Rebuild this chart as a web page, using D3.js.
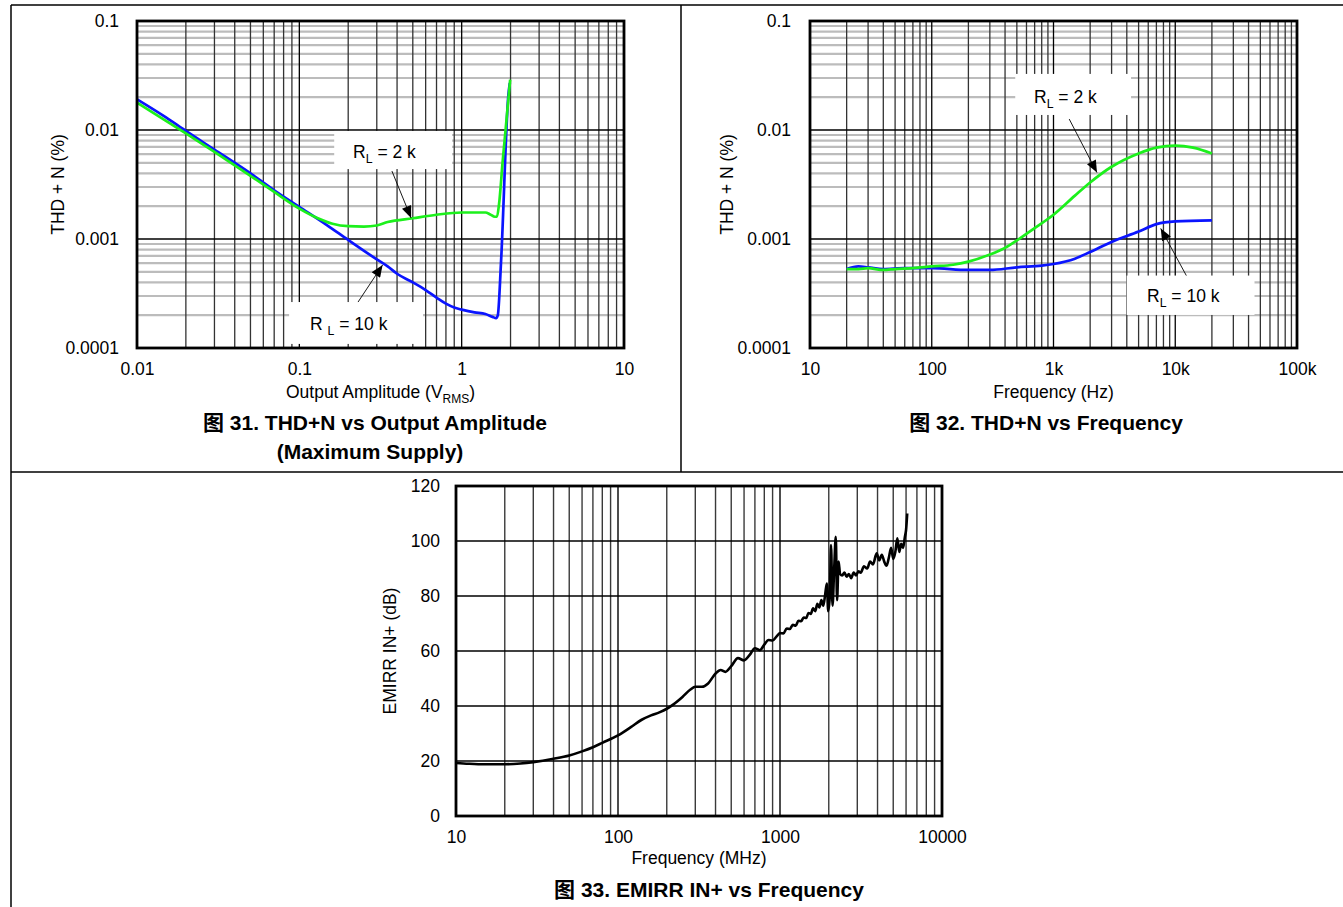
<!DOCTYPE html>
<html><head><meta charset="utf-8">
<script src="https://cdn.jsdelivr.net/npm/d3@7"></script>
<style>
html,body{margin:0;padding:0;background:#fff;}
svg{display:block;font-family:"Liberation Sans",Arial,"Noto Sans CJK SC",sans-serif;}
</style></head><body>
<svg id="c" width="1343" height="907"></svg>
<script>
// ---------- DATA ----------
// Figure 31: THD+N vs Output Amplitude
const ampTicks = [0.01, 0.1, 1, 10];
const ampTickLabels = ["0.01", "0.1", "1", "10"];
const thdTicks = [0.0001, 0.001, 0.01, 0.1];
const thdTickLabels = ["0.0001", "0.001", "0.01", "0.1"];
const amp2kX = [0.01, 0.015, 0.02, 0.03, 0.05, 0.07, 0.1, 0.13, 0.16, 0.2, 0.25, 0.3, 0.35, 0.5, 0.7, 1.0, 1.4, 1.5, 1.6, 1.65, 1.7, 1.79, 1.87, 1.99];
const amp2kY = [0.0178, 0.0122, 0.0093, 0.0063, 0.0038, 0.0027, 0.0019, 0.00155, 0.00138, 0.00131, 0.0013, 0.00133, 0.00143, 0.00155, 0.00167, 0.00175, 0.00175, 0.00168, 0.0016, 0.0016, 0.0021, 0.0052, 0.0105, 0.029];
const amp10kX = [0.01, 0.015, 0.02, 0.03, 0.05, 0.07, 0.1, 0.15, 0.2, 0.3, 0.35, 0.4, 0.5, 0.6, 0.7, 0.8, 0.9, 1.0, 1.2, 1.4, 1.55, 1.63, 1.67, 1.75, 1.94, 1.98];
const amp10kY = [0.0191, 0.0131, 0.0098, 0.0066, 0.0040, 0.0028, 0.00197, 0.00132, 0.00098, 0.00065, 0.00056, 0.00048, 0.0004, 0.00034, 0.00029, 0.000255, 0.000235, 0.000225, 0.000212, 0.000205, 0.000193, 0.000188, 0.0002, 0.00064, 0.021, 0.027];

// Figure 32: THD+N vs Frequency
const freqTicks = [10, 100, 1000, 10000, 100000];
const freqTickLabels = ["10", "100", "1k", "10k", "100k"];
const f2kX = [20, 25, 30, 40, 50, 70, 100, 150, 200, 300, 400, 500, 700, 1000, 1500, 2000, 3000, 5000, 7000, 10000, 14000, 20000];
const f2kY = [0.00053, 0.00053, 0.00054, 0.00052, 0.00053, 0.00054, 0.00056, 0.00058, 0.00062, 0.00072, 0.00083, 0.00097, 0.00126, 0.00167, 0.0025, 0.0033, 0.0046, 0.0061, 0.0069, 0.0072, 0.0069, 0.0061];
const f10kX = [20, 25, 30, 40, 60, 100, 200, 300, 500, 800, 1000, 1500, 2000, 3000, 5000, 7000, 10000, 20000];
const f10kY = [0.00053, 0.00056, 0.00055, 0.00053, 0.00054, 0.00054, 0.00052, 0.00052, 0.00055, 0.00057, 0.00059, 0.00066, 0.00076, 0.00094, 0.00117, 0.00137, 0.00145, 0.00148];

// Figure 33: EMIRR IN+ vs Frequency
const mhzTicks = [10, 100, 1000, 10000];
const mhzTickLabels = ["10", "100", "1000", "10000"];
const dbTicks = [0, 20, 40, 60, 80, 100, 120];
const emiF = [10, 12, 15, 20, 25, 30, 40, 50, 60, 70, 80, 100, 120, 140, 160, 180, 200, 220, 250, 280, 300, 330, 360, 400, 430, 460, 500, 550, 600, 650, 700, 750, 800, 850, 900, 950, 1000, 1050, 1100, 1150, 1200, 1250, 1300, 1350, 1400, 1450, 1500, 1550, 1600, 1650, 1700, 1750, 1800, 1850, 1900, 1945, 1985, 2030, 2065, 2110, 2160, 2210, 2250, 2300, 2350, 2420, 2500, 2580, 2660, 2750, 2850, 2950, 3050, 3150, 3300, 3450, 3600, 3750, 3950, 4100, 4250, 4400, 4550, 4700, 4850, 5000, 5150, 5300, 5450, 5600, 5750, 5900, 6000, 6100];
const emiDb = [19.3, 19.0, 18.8, 18.8, 19.1, 19.6, 20.8, 22.0, 23.5, 25.0, 26.6, 29.3, 32.3, 35.0, 36.6, 37.7, 39.0, 40.6, 43.3, 46.0, 47.0, 47.0, 48.2, 51.8, 53.1, 52.4, 54.5, 57.4, 56.6, 58.6, 61.0, 60.3, 62.3, 64.0, 63.8, 65.2, 66.5, 66.4, 68.2, 68.0, 69.5, 69.2, 71.0, 70.8, 72.2, 72.0, 73.8, 73.5, 75.5, 74.5, 77.2, 75.8, 78.5, 76.5, 80.5, 84.5, 74.5, 80, 98.5, 76.5, 90, 101.5, 78.5, 92.5, 88, 87.5, 88.5, 87, 88, 86.5, 88.5, 87.5, 89, 88.5, 90.8, 90, 92.5, 91.5, 95.5, 93, 95, 92.5, 91, 94, 97.5, 93.5, 96, 101, 96, 99, 97.5, 101.5, 104, 110];

// annotations (data coordinates)
const ann31 = [
  {box: [0.164, 0.873, 0.0098, 0.00438], text: ["R", "L", " = 2 k"], tx: 0.2143, ty: 0.00558, from: [0.372, 0.0042], to: [0.488, 0.00156]},
  {box: [0.0865, 0.578, 0.000264, 0.000109], text: ["R ", "L", " = 10 k"], tx: 0.1165, ty: 0.000146, from: [0.230, 0.000264], to: [0.3256, 0.000577]}
];
const ann32 = [
  {box: [485, 4335, 0.0327, 0.01374], text: ["R", "L", " = 2 k"], tx: 692, ty: 0.0177, from: [1346, 0.0126], to: [2275, 0.00407]},
  {box: [3990, 44770, 0.000462, 0.000201], text: ["R", "L", " = 10 k"], tx: 5860, ty: 0.000265, from: [12330, 0.000462], to: [7600, 0.00125]}
];

// ---------- DRAW ----------
const FS = 17.5, CAP = 21;
const svg = d3.select("#c");
svg.append("rect").attr("width", 1343).attr("height", 907).attr("fill", "#fff");

const defs = svg.append("defs");
defs.append("marker").attr("id", "ah").attr("viewBox", "0 0 12 10")
  .attr("refX", 12).attr("refY", 5).attr("markerUnits", "userSpaceOnUse")
  .attr("markerWidth", 13).attr("markerHeight", 10).attr("orient", "auto")
  .append("path").attr("d", "M0,0 L12,5 L0,10 Z").attr("fill", "#000");

// table borders
const borders = [[11, 5, 1343, 5], [11, 5, 11, 907], [681, 5, 681, 472], [11, 472, 1343, 472]];
svg.append("g").selectAll("line").data(borders).join("line")
  .attr("x1", d => d[0]).attr("y1", d => d[1]).attr("x2", d => d[2]).attr("y2", d => d[3])
  .attr("stroke", "#000").attr("stroke-width", 1.5);

function logValues(domain) {
  const out = [];
  const e0 = Math.floor(Math.log10(domain[0]) + 1e-9), e1 = Math.ceil(Math.log10(domain[1]) - 1e-9);
  for (let e = e0; e <= e1; e++) for (let k = 1; k <= 9; k++) {
    const v = +(k * Math.pow(10, e)).toPrecision(6);
    if (v >= domain[0] * 0.9999 && v <= domain[1] * 1.0001) out.push({v, major: k === 1});
  }
  return out;
}

function subText(sel, parts, size) {
  sel.append("tspan").text(parts[0]);
  sel.append("tspan").attr("font-size", size * 0.7).attr("dy", size * 0.3).text(parts[1]);
  sel.append("tspan").attr("dy", -size * 0.3).text(parts[2]);
}

function drawAxesText(g, xs, ys, o) {
  const ya = d3.axisLeft(ys).tickValues(o.yTicks).tickFormat((d, i) => o.yLabels[i]).tickSize(0).tickPadding(o.yPad);
  const yg = g.append("g").attr("transform", `translate(${o.x0},0)`).call(ya);
  yg.select(".domain").remove();
  yg.selectAll("text").attr("font-size", FS).attr("fill", "#000").attr("font-family", "Liberation Sans, Arial, sans-serif");
  const xa = d3.axisBottom(xs).tickValues(o.xTicks).tickFormat((d, i) => o.xLabels[i]).tickSize(0).tickPadding(o.xPad);
  const xg = g.append("g").attr("transform", `translate(0,${o.y1})`).call(xa);
  xg.select(".domain").remove();
  xg.selectAll("text").attr("font-size", FS).attr("fill", "#000").attr("font-family", "Liberation Sans, Arial, sans-serif");
}

function frame(g, o) {
  g.append("rect").attr("x", o.x0).attr("y", o.y0).attr("width", o.x1 - o.x0).attr("height", o.y1 - o.y0)
    .attr("fill", "none").attr("stroke", "#000").attr("stroke-width", 2.8);
}

function thdChart(o) {
  const g = svg.append("g");
  const xs = d3.scaleLog().domain(o.xDomain).range([o.x0, o.x1]);
  const ys = d3.scaleLog().domain([0.0001, 0.1]).range([o.y1, o.y0]);
  const yv = logValues([0.0001, 0.1]);
  const xv = logValues(o.xDomain);
  g.append("g").selectAll("line").data(yv.filter(d => !d.major)).join("line")
    .attr("x1", o.x0).attr("x2", o.x1).attr("y1", d => ys(d.v)).attr("y2", d => ys(d.v))
    .attr("stroke", "#bcbcbc").attr("stroke-width", 2.2);
  g.append("g").selectAll("line").data(xv).join("line")
    .attr("x1", d => xs(d.v)).attr("x2", d => xs(d.v)).attr("y1", o.y0).attr("y2", o.y1)
    .attr("stroke", d => d.major ? "#000" : "#333").attr("stroke-width", 1.3);
  g.append("g").selectAll("line").data(yv.filter(d => d.major)).join("line")
    .attr("x1", o.x0).attr("x2", o.x1).attr("y1", d => ys(d.v)).attr("y2", d => ys(d.v))
    .attr("stroke", "#000").attr("stroke-width", 1.3);
  o.ann.forEach(a => {
    g.append("rect").attr("x", xs(a.box[0])).attr("y", ys(a.box[2]))
      .attr("width", xs(a.box[1]) - xs(a.box[0])).attr("height", ys(a.box[3]) - ys(a.box[2]))
      .attr("fill", "#fff");
  });
  const line = d3.line().x(d => xs(d[0])).y(d => ys(d[1])).curve(d3.curveMonotoneX);
  o.series.forEach(s => {
    g.append("path").datum(d3.zip(s.x, s.y)).attr("d", line)
      .attr("fill", "none").attr("stroke", s.color).attr("stroke-width", 2.7).attr("stroke-linejoin", "round");
  });
  o.ann.forEach(a => {
    const t = g.append("text").attr("x", xs(a.tx)).attr("y", ys(a.ty)).attr("font-size", FS).attr("fill", "#000");
    subText(t, a.text, FS);
    g.append("line").attr("x1", xs(a.from[0])).attr("y1", ys(a.from[1])).attr("x2", xs(a.to[0])).attr("y2", ys(a.to[1]))
      .attr("stroke", "#000").attr("stroke-width", 0.9).attr("marker-end", "url(#ah)");
  });
  frame(g, o);
  drawAxesText(g, xs, ys, o);
  g.append("text").attr("transform", `translate(${o.yTitleX},${(o.y0 + o.y1) / 2}) rotate(-90)`)
    .attr("text-anchor", "middle").attr("dominant-baseline", "middle").attr("font-size", FS).text("THD + N (%)");
  const xt = g.append("text").attr("x", (o.x0 + o.x1) / 2).attr("y", o.y1 + 50).attr("text-anchor", "middle").attr("font-size", FS);
  o.xTitle(xt);
  o.caption.forEach((c, i) => {
    g.append("text").attr("x", o.capX[i]).attr("y", o.y1 + 82 + i * 29).attr("text-anchor", "middle")
      .attr("font-size", CAP).attr("font-weight", "bold").text(c);
  });
}

thdChart({
  x0: 137, x1: 624, y0: 21, y1: 348, xDomain: [0.01, 10],
  xTicks: ampTicks, xLabels: ampTickLabels, yTicks: thdTicks, yLabels: thdTickLabels,
  yPad: 18, xPad: 15, yTitleX: 59, capX: [375, 370],
  series: [{x: amp10kX, y: amp10kY, color: "#0a14ff"}, {x: amp2kX, y: amp2kY, color: "#1cf01c"}],
  ann: ann31,
  xTitle: t => { t.append("tspan").text("Output Amplitude (V"); t.append("tspan").attr("font-size", 12).attr("dy", 5).text("RMS"); t.append("tspan").attr("dy", -5).text(")"); },
  caption: ["图 31. THD+N vs Output Amplitude", "(Maximum Supply)"]
});

thdChart({
  x0: 810, x1: 1297, y0: 21, y1: 348, xDomain: [10, 100000],
  xTicks: freqTicks, xLabels: freqTickLabels, yTicks: thdTicks, yLabels: thdTickLabels,
  yPad: 19, xPad: 15, yTitleX: 728, capX: [1046],
  series: [{x: f10kX, y: f10kY, color: "#0a14ff"}, {x: f2kX, y: f2kY, color: "#1cf01c"}],
  ann: ann32,
  xTitle: t => t.text("Frequency (Hz)"),
  caption: ["图 32. THD+N vs Frequency"]
});

// Figure 33
(function () {
  const o = {x0: 456, x1: 942, y0: 486, y1: 816, yPad: 16, xPad: 15,
    xTicks: mhzTicks, xLabels: mhzTickLabels, yTicks: dbTicks, yLabels: dbTicks.map(String)};
  const g = svg.append("g");
  const xs = d3.scaleLog().domain([10, 10000]).range([o.x0, o.x1]);
  const ys = d3.scaleLinear().domain([0, 120]).range([o.y1, o.y0]);
  const xv = logValues([10, 10000]);
  g.append("g").selectAll("line").data(xv).join("line")
    .attr("x1", d => xs(d.v)).attr("x2", d => xs(d.v)).attr("y1", o.y0).attr("y2", o.y1)
    .attr("stroke", d => d.major ? "#000" : "#3a3a3a").attr("stroke-width", 1.4);
  g.append("g").selectAll("line").data(dbTicks).join("line")
    .attr("x1", o.x0).attr("x2", o.x1).attr("y1", d => ys(d)).attr("y2", d => ys(d))
    .attr("stroke", "#000").attr("stroke-width", 1.3);
  const line = d3.line().x(d => xs(d[0])).y(d => ys(d[1])).curve(d3.curveMonotoneX);
  g.append("path").datum(d3.zip(emiF, emiDb)).attr("d", line)
    .attr("fill", "none").attr("stroke", "#000").attr("stroke-width", 2.6).attr("stroke-linejoin", "round");
  frame(g, o);
  drawAxesText(g, xs, ys, o);
  g.append("text").attr("transform", `translate(391,${(o.y0 + o.y1) / 2}) rotate(-90)`)
    .attr("text-anchor", "middle").attr("dominant-baseline", "middle").attr("font-size", FS).text("EMIRR IN+ (dB)");
  g.append("text").attr("x", (o.x0 + o.x1) / 2).attr("y", o.y1 + 48).attr("text-anchor", "middle").attr("font-size", FS).text("Frequency (MHz)");
  g.append("text").attr("x", 709).attr("y", o.y1 + 81).attr("text-anchor", "middle")
    .attr("font-size", CAP).attr("font-weight", "bold").text("图 33. EMIRR IN+ vs Frequency");
})();
</script></body></html>
